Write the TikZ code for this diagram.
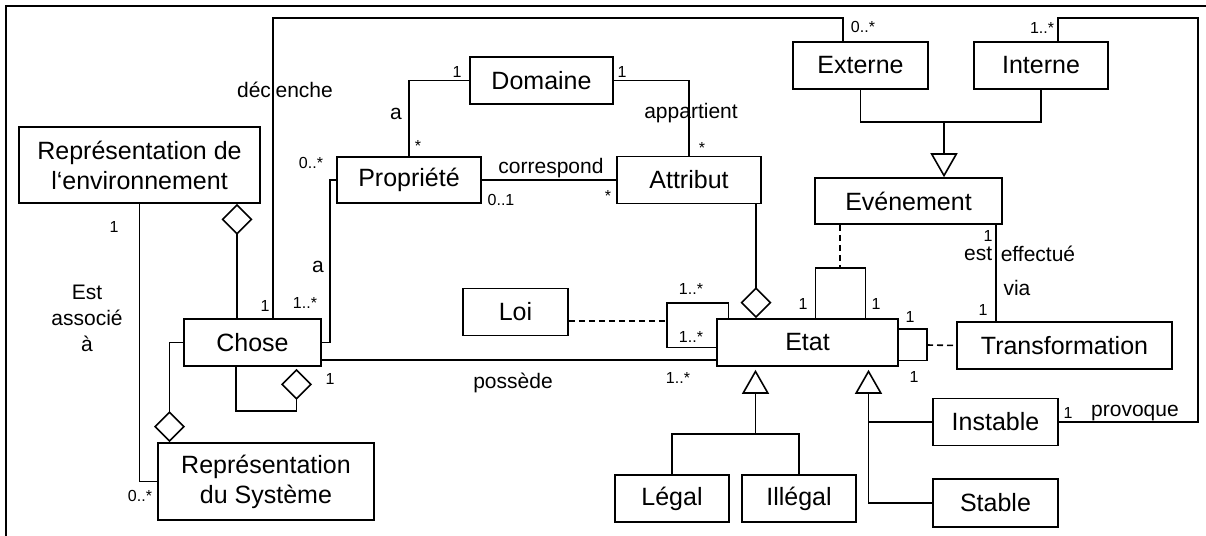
\documentclass[tikz,border=0pt]{standalone}
\usepackage{fontspec}
\setmainfont{Liberation Sans}
\usetikzlibrary{arrows.meta}
\newdimen\upx \upx=0.5pt
\begin{document}
\begin{tikzpicture}[x=0.5pt,y=-0.5pt, line width=0.8pt,
 box/.style={draw, inner sep=0pt, align=center, font=\fontsize{12.5}{15}\selectfont},
 lab/.style={inner sep=0pt, align=center, font=\fontsize{10.5}{13}\selectfont},
 mult/.style={inner sep=0pt, font=\fontsize{8}{9}\selectfont},
 agg/.style={{Diamond[open,length=15.5pt,width=15.5pt]}-},
 gen/.style={-{Triangle[open,length=12pt,width=13.5pt]}},
 dep/.style={dash pattern=on 3pt off 2pt}]
\useasboundingbox (0,0) rectangle (1206,536);
% frame
\draw (6,536) -- (6,6) -- (1206,6);
% boxes
\node[box, minimum width=241\upx, minimum height=76\upx] (renv) at (139.5,165) {Représentation de\\l‘environnement};
\node[box, minimum width=143\upx, minimum height=47\upx] (domaine) at (541.5,80.5) {Domaine};
\node[box, minimum width=144\upx, minimum height=46\upx] (propriete) at (409,180) {Propriété};
\node[box, minimum width=144\upx, minimum height=47\upx] (attribut) at (689,180) {Attribut};
\node[box, minimum width=135\upx, minimum height=47\upx] (externe) at (860.5,65.5) {Externe};
\node[box, minimum width=134\upx, minimum height=47\upx] (interne) at (1041,65.5) {Interne};
\node[box, minimum width=187\upx, minimum height=46\upx] (evenement) at (908.5,201) {Evénement};
\node[box, minimum width=137\upx, minimum height=47\upx] (chose) at (252.5,342.5) {Chose};
\node[box, minimum width=105\upx, minimum height=47\upx] (loi) at (515.5,312) {Loi};
\node[box, minimum width=181\upx, minimum height=47\upx] (etat) at (807.5,342.5) {Etat};
\node[box, minimum width=215\upx, minimum height=47\upx] (transformation) at (1064.5,345.5) {Transformation};
\node[box, minimum width=125\upx, minimum height=47\upx] (instable) at (995.5,422) {Instable};
\node[box, minimum width=125\upx, minimum height=48\upx] (stable) at (995.5,503) {Stable};
\node[box, minimum width=114\upx, minimum height=47\upx] (legal) at (672,498.5) {Légal};
\node[box, minimum width=114\upx, minimum height=47\upx] (illegal) at (799,498.5) {Illégal};
\node[box, minimum width=216\upx, minimum height=77\upx] (rsys) at (266,481.5) {Représentation\\du Système};
% connectors
\draw ([xshift=20.5\upx]chose.north) |- (843,18) -- ([xshift=-17.5\upx]externe.north);
\draw ([xshift=17\upx]interne.north) |- (1198,18) |- (instable.east);
\coordinate (evj) at (944,122);
\draw (externe.south) |- (evj) -| (interne.south);
\draw[gen] (evj) -- ([xshift=35.5\upx]evenement.north);
\draw ([xshift=87.5\upx]evenement.south) -- ([xshift=-68.5\upx]transformation.north);
\draw ([xshift=8\upx]etat.north) -- ++(0,-50) -| ([xshift=58\upx]etat.north);
\coordinate (loopE) at (840,269);
\draw[dep] ([xshift=-68.5\upx]evenement.south) -- (loopE);
\coordinate (loopT) at (927,345);
\draw ([yshift=13.5\upx]etat.east) -| (loopT) |- ([yshift=-18\upx]etat.east);
\draw[dep] (loopT) -- (transformation.west);
\coordinate (loopL) at (667,321);
\draw ([xshift=-79\upx]etat.north) |- (667,303) -- (loopL) |- ([yshift=-5\upx]etat.west);
\draw[dep] ([yshift=-9\upx]loi.east) -- (loopL);
\draw[agg] ([xshift=-51.5\upx]etat.north) -- ([xshift=67\upx]attribut.south);
\draw ([yshift=-17.5\upx]chose.east) -- ([yshift=-17.5\upx]etat.west);
\coordinate (lj) at (755.5,434);
\draw (legal.north) |- (lj) -| (illegal.north);
\draw[gen] (lj) -- ([xshift=-52\upx,yshift=-3\upx]etat.south);
\coordinate (rj) at (868.5,422);
\draw[gen] (stable.west) -| ([xshift=61\upx,yshift=-3\upx]etat.south);
\draw (instable.west) -- (rj);
\draw (propriete.east) -- (attribut.west);
\draw (domaine.west) -| (propriete.north);
\draw (domaine.east) -| (attribut.north);
\coordinate (pc) at (330,180);
\draw (propriete.west) -- (pc) |- (chose.east);
\draw[agg] ([xshift=97.5\upx]renv.south) -- ([xshift=-15.5\upx]chose.north);
\draw (renv.south) |- (rsys.west);
\draw[agg] ([xshift=-96.5\upx]rsys.north) |- (chose.west);
\draw[agg] ([xshift=44\upx,yshift=-2\upx]chose.south) -- ++(0,42) -| ([xshift=-16.5\upx]chose.south);
% medium labels
\node[lab] (t1) at (285,90) {déclenche};
\node[lab] (t2) at (396,114) {a};
\node[lab] (t3) at (691,113) {appartient};
\node[lab] (t4) at (551,168) {correspond};
\node[lab] (t5) at (318,267) {a};
\node[lab] (t6) at (87,318) {Est\\associé\\à};
\node[lab] (t7) at (513,383) {possède};
\node[lab, anchor=east] (t8) at (993,254) {est};
\node[lab, anchor=west] (t9) at (1000,254) {effectué};
\node[lab] (t10) at (1017,288) {via};
\node[lab] (t11) at (1135,413) {provoque};
% multiplicities
\node[mult] (m1) at (863,27) {0..*};
\node[mult] (m2) at (1042,28) {1..*};
\node[mult] (m3) at (457,72) {1};
\node[mult] (m4) at (622,72) {1};
\node[mult] (m5) at (418,146) {*};
\node[mult] (m6) at (702,148) {*};
\node[mult] (m7) at (311,163) {0..*};
\node[mult] (m8) at (501,200) {0..1};
\node[mult] (m9) at (608,196) {*};
\node[mult] (m10) at (114,227) {1};
\node[mult] (m11) at (265,306) {1};
\node[mult] (m12) at (305,303) {1..*};
\node[mult] (m13) at (330,379) {1};
\node[mult] (m14) at (140,496) {0..*};
\node[mult] (m15) at (691,289) {1..*};
\node[mult] (m16) at (691,337) {1..*};
\node[mult] (m17) at (678,378) {1..*};
\node[mult] (m18) at (803,304) {1};
\node[mult] (m19) at (876,304) {1};
\node[mult] (m20) at (910,317) {1};
\node[mult] (m21) at (914,377) {1};
\node[mult] (m22) at (988,236) {1};
\node[mult] (m23) at (983,310) {1};
\node[mult] (m24) at (1068,413) {1};
\end{tikzpicture}
\end{document}
